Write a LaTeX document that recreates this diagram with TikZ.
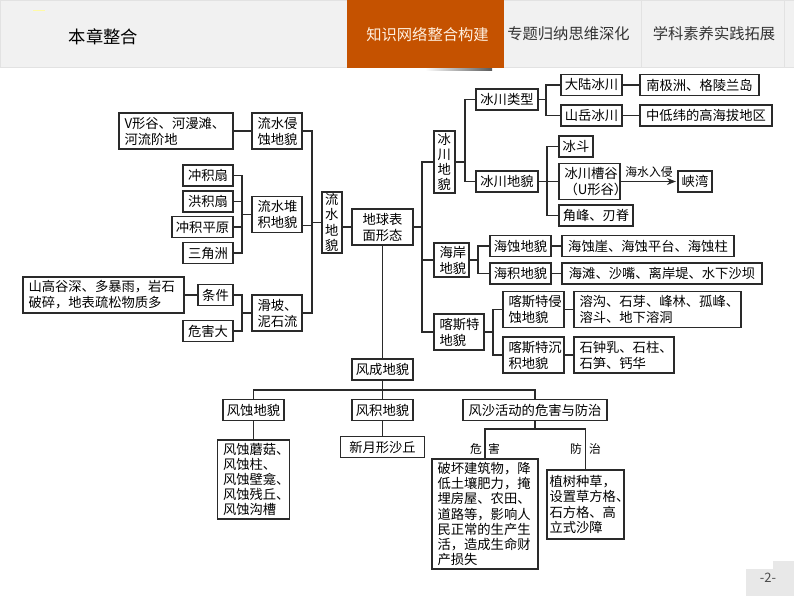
\documentclass[tikz,border=0pt]{standalone}
\usepackage{fontspec}
\setmainfont{Noto Sans CJK SC}
\usepackage{xcolor}
\usetikzlibrary{arrows.meta, positioning}
\definecolor{tabred}{HTML}{C55200}
\definecolor{barbg}{HTML}{F1F1F1}
\definecolor{barline}{HTML}{E2E2E2}
\definecolor{pagebg}{HTML}{E8E8E8}
\definecolor{inkline}{HTML}{2A2A2A}

\begin{document}
\begin{tikzpicture}[
  x=1pt, y=-1pt,
  box/.style 2 args={draw=inkline, line width=1.2pt, inner sep=1pt, minimum width=#1pt, minimum height=#2pt,
    font=\fontsize{13.3}{16}\selectfont, text=black},
  para/.style 2 args={box={#1}{#2}, text width=#1pt-11pt, inner xsep=5.5pt, align=left},
  snug/.style={font=\fontsize{13.3}{15.2}\selectfont},
  link/.style={draw=inkline, line width=1.2pt},
  lab/.style={font=\fontsize{11.8}{14}\selectfont, text=black, inner sep=0pt},
  tabtxt/.style={font=\fontsize{15.3}{18}\selectfont, text=black!80, inner sep=0pt}
]
  \useasboundingbox (0,0) rectangle (794,596);

  \fill[barbg] (0,0) rectangle (794,67);
  \draw[barline, line width=0.7pt] (0,67) -- (794,67);
  \draw[barline, line width=0.7pt] (0.3,67) -- (0.3,0.3) -- (794,0.3);
  \draw[barline, line width=0.7pt] (641,0) -- (641,67);
  \draw[barline, line width=0.7pt] (784,0) -- (784,67);
  \shade[left color=white, right color=black!65] (425,68) rectangle (492,71);
  \fill[tabred] (347,0) rectangle (504,68);
  \draw[yellow!35!white, line width=1pt] (33,11) -- (45,11);
  \node[tabtxt, font=\fontsize{17.3}{20}\selectfont, text=black] (title) at (103.5,37) {本章整合};
  \node[tabtxt, text=orange!12!white] (tabone) at (427.5,35) {知识网络整合构建};
  \node[tabtxt] (tabtwo) at (568.5,34) {专题归纳思维深化};
  \node[tabtxt] (tabthree) at (714,34) {学科素养实践拓展};

  \fill[pagebg] (746,569) -- (773,569) -- (773,561) -- (794,561) -- (794,596) -- (746,596) -- cycle;
  \node[font=\fontsize{13}{15}\selectfont, text=black!70, inner sep=0pt] (pagenum) at (768,578) {-2-};

  \node[para={114}{36}] (vgu) at (176,131) {V形谷、河漫滩、\\河流阶地};
  \node[para={50}{36}] (qinshi) at (277,131) {流水侵\\蚀地貌};
  \node[box={50}{21}] (shan) at (208,175.5) {冲积扇};
  \node[box={50}{21}] (hong) at (208,201.5) {洪积扇};
  \node[box={61}{21}] (pingyuan) at (202.5,227) {冲积平原};
  \node[box={50}{21}] (sanjiao) at (208,253) {三角洲};
  \node[para={50}{36}] (duiji) at (277,214.5) {流水堆\\积地貌};
  \node[para={161}{36}] (shangao) at (103.5,295) {山高谷深、多暴雨，岩石\\破碎，地表疏松物质多};
  \node[box={35}{21}] (tiaojian) at (215.5,295) {条件};
  \node[box={50}{21}] (weihai) at (208,331) {危害大};
  \node[para={50}{36}] (huapo) at (277,313) {滑坡、\\泥石流};
  \node[para={20}{61}, snug, inner xsep=3.2pt, text width=13.6pt] (liushui) at (332,222.5) {流\\水\\地\\貌};
  \node[para={61}{36}, align=center] (dixing) at (382.5,227) {地球表\\面形态};

  \node[para={21}{62}, snug, inner xsep=3.5pt, text width=14pt] (bingchuan) at (444.5,162) {冰\\川\\地\\貌};
  \node[box={62}{21}] (leixing) at (507,99.5) {冰川类型};
  \node[box={62}{21}] (bingdi) at (507,181.5) {冰川地貌};
  \node[box={61}{21}] (dalu) at (591.5,85) {大陆冰川};
  \node[box={119}{21}] (nanji) at (699.5,85) {南极洲、格陵兰岛};
  \node[box={61}{21}] (shanyue) at (591.5,115.5) {山岳冰川};
  \node[box={132}{21}] (zhongdi) at (706,115.5) {中低纬的高海拔地区};
  \node[box={34}{21}] (bingdou) at (576,146.5) {冰斗};
  \node[para={61}{36}, align=center] (caogu) at (589.5,181.5) {冰川槽谷\\（U形谷）};
  \node[box={34}{21}] (xiawan) at (695,181.5) {峡湾};
  \node[box={74}{21}] (jiaofeng) at (596,215.5) {角峰、刃脊};
  \node[para={35}{34}] (haian) at (451.5,260) {海岸\\地貌};
  \node[box={61}{21}] (haishi) at (520.5,246) {海蚀地貌};
  \node[box={172}{21}] (haiya) at (648,246) {海蚀崖、海蚀平台、海蚀柱};
  \node[box={61}{21}] (haiji) at (520.5,273.5) {海积地貌};
  \node[box={200}{21}] (haitan) at (662,273.5) {海滩、沙嘴、离岸堤、水下沙坝};
  \node[para={50}{36}] (kasi) at (459,332) {喀斯特\\地貌};
  \node[para={61}{36}] (kasiqin) at (533.5,309.5) {喀斯特侵\\蚀地貌};
  \node[para={167}{36}] (rongou) at (657.5,309.5) {溶沟、石芽、峰林、孤峰、\\溶斗、地下溶洞};
  \node[para={61}{36}] (kasichen) at (533.5,355) {喀斯特沉\\积地貌};
  \node[para={100}{36}] (zhongru) at (624,355) {石钟乳、石柱、\\石笋、钙华};

  \node[box={61}{21}] (fengcheng) at (382.5,369.5) {风成地貌};
  \node[box={61}{21}] (fengshi) at (253.5,410) {风蚀地貌};
  \node[box={61}{21}] (fengji) at (382.5,410) {风积地貌};
  \node[box={144}{21}] (fengsha) at (535,410) {风沙活动的危害与防治};
  \node[para={72}{79}, snug] (mogu) at (253.5,479.5) {风蚀蘑菇、\\风蚀柱、\\风蚀壁龛、\\风蚀残丘、\\风蚀沟槽};
  \node[box={84}{21}] (xinyue) at (382.5,447) {新月形沙丘};
  \node[para={106}{110}, snug] (pohuai) at (485,514) {破坏建筑物，降\\低土壤肥力，掩\\埋房屋、农田、\\道路等，影响人\\民正常的生产生\\活，造成生命财\\产损失};
  \node[para={77}{69}, snug, inner xsep=2.5pt, text width=72pt] (zhishu) at (585.5,504.5) {植树种草，\\设置草方格、\\石方格、高\\立式沙障};
  \node[lab] (wei) at (476,449) {危};
  \node[lab] (hai) at (494,449) {害};
  \node[lab] (fang) at (576,449) {防};
  \node[lab] (zhi) at (595,449) {治};

  \coordinate (busleft) at (242,214.5);
  \coordinate (bushua) at (242,313);
  \coordinate (busliu) at (312,222.5);
  \coordinate (busdi) at (422,227);
  \coordinate (busbing) at (465,162);
  \coordinate (buslei) at (546,99.5);
  \coordinate (busmao) at (547,181.5);
  \coordinate (bushai) at (478,260);
  \coordinate (buskasi) at (493,332);
  \coordinate (busfeng) at (382.5,390);
  \coordinate (busfs) at (535,429);

  \draw[link] (vgu) -- (qinshi);
  \draw[link] (shan.east) -| (busleft) |- (sanjiao.east);
  \draw[link] (hong.east) -- (hong.east -| busleft);
  \draw[link] (pingyuan.east) -- (pingyuan.east -| busleft);
  \draw[link] (busleft) -- (duiji.west);
  \draw[link] (shangao) -- (tiaojian);
  \draw[link] (tiaojian.east) -| (bushua) |- (weihai.east);
  \draw[link] (bushua) -- (huapo.west);
  \draw[link] (qinshi.east) -| (busliu) |- (huapo.east);
  \draw[link] ([yshift=-11pt]duiji.east) -- ([yshift=-11pt]duiji.east -| busliu);
  \draw[link] (busliu) -- (liushui.west);
  \draw[link] (liushui.east |- dixing.west) -- (dixing.west);

  \draw[link] (dixing.east) -- (busdi);
  \draw[link] (bingchuan.west) -| (busdi) |- (kasi.west);
  \draw[link] (busdi |- haian.west) -- (haian.west);
  \draw[link] (bingchuan.east) -- (busbing);
  \draw[link] (leixing.west) -| (busbing) |- (bingdi.west);
  \draw[link] (leixing.east) -- (buslei);
  \draw[link] (dalu.west) -| (buslei) |- (shanyue.west);
  \draw[link] (dalu) -- (nanji);
  \draw[link] (shanyue) -- (zhongdi);
  \draw[link] (bingdi.east) -- (caogu.west);
  \draw[link] (bingdou.west) -| (busmao) |- (jiaofeng.west);
  \draw[link, -{Stealth[length=9pt,width=7pt]}, shorten >=1.5pt] (caogu.east) -- node[lab, above=3pt] (ruqin) {海水入侵} (xiawan.west);
  \draw[link] (haian.east) -- (bushai);
  \draw[link] (haishi.west) -| (bushai) |- (haiji.west);
  \draw[link] (haishi) -- (haiya);
  \draw[link] (haiji) -- (haitan);
  \draw[link] (kasi.east) -- (buskasi);
  \draw[link] (kasiqin.west) -| (buskasi) |- (kasichen.west);
  \draw[link] (kasiqin) -- (rongou);
  \draw[link] (kasichen) -- (zhongru);

  \draw[link] (dixing.south) -- (fengcheng.north);
  \draw[link] (fengcheng.south) -- (fengji.north);
  \draw[link] (fengshi.north) |- (busfeng) -| (fengsha.north);
  \draw[link] (fengshi.south) -- (mogu.north);
  \draw[link] (fengji.south) -- (xinyue.north);
  \draw[link] (fengsha.south) -- (busfs);
  \draw[link] (pohuai.north) |- (busfs) -| (zhishu.north);
\end{tikzpicture}
\end{document}
